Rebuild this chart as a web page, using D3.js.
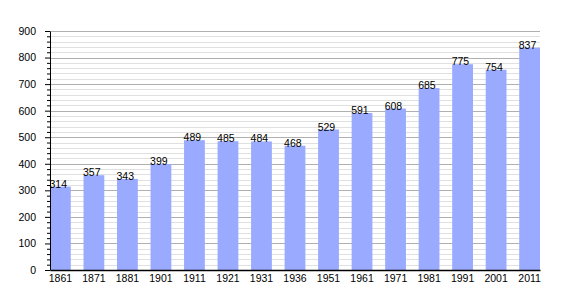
<!DOCTYPE html>
<html>
<head>
<meta charset="utf-8">
<script src="https://cdn.jsdelivr.net/npm/d3@7"></script>
<style>
  body { margin: 0; background: #fff; }
  text { font-family: "Liberation Sans", Arial, sans-serif; }
</style>
</head>
<body>
<svg id="chart"></svg>
<script>
// census years and population
const years = ['1861', '1871', '1881', '1901', '1911', '1921', '1931', '1936',
  '1951', '1961', '1971', '1981', '1991', '2001', '2011'];
const population = [314, 357, 343, 399, 489, 485, 484, 468, 529, 591, 608, 685, 775, 754, 837];
const yTicks = [0, 100, 200, 300, 400, 500, 600, 700, 800, 900];

const width = 570, height = 300;
const margin = { top: 31, right: 30, bottom: 30, left: 50 };
const w = width - margin.left - margin.right;
const h = height - margin.top - margin.bottom;
const font = '"Liberation Sans", Arial, sans-serif';

const svg = d3.select('#chart')
  .attr('width', width)
  .attr('height', height);

const g = svg.append('g')
  .attr('transform', `translate(${margin.left},${margin.top})`);

const x = d3.scaleBand()
  .domain(years)
  .range([0, w])
  .paddingInner(0.38)
  .paddingOuter(0);

const y = d3.scaleLinear()
  .domain([0, 900])
  .range([h, 0]);

// minor grid every 20
const minor = d3.range(0, 901, 20).filter(v => v % 100 !== 0);
g.append('g')
  .selectAll('line')
  .data(minor)
  .join('line')
  .attr('x1', 0)
  .attr('x2', w)
  .attr('y1', d => Math.round(y(d)) + 0.5)
  .attr('y2', d => Math.round(y(d)) + 0.5)
  .attr('stroke', '#e0e0e0');

// major grid
g.append('g')
  .selectAll('line')
  .data(yTicks.slice(1))
  .join('line')
  .attr('x1', 0)
  .attr('x2', w)
  .attr('y1', d => Math.round(y(d)) + 0.5)
  .attr('y2', d => Math.round(y(d)) + 0.5)
  .attr('stroke', '#b0b0b0');

// bars
g.append('g')
  .selectAll('rect')
  .data(population)
  .join('rect')
  .attr('x', (d, i) => x(years[i]))
  .attr('y', d => y(d))
  .attr('width', x.bandwidth())
  .attr('height', d => h - y(d))
  .attr('fill', '#99aaff');

// value labels
g.append('g')
  .selectAll('text')
  .data(population)
  .join('text')
  .attr('x', (d, i) => x(years[i]) - 0.5)
  .attr('y', d => y(d) + 1)
  .attr('font-size', 10.5)
  .attr('fill', '#000')
  .text(d => d);

// y axis with minor ticks
g.append('g')
  .call(d3.axisLeft(y).tickValues(minor).tickSize(3).tickFormat(''))
  .call(a => a.select('.domain').remove())
  .selectAll('line').attr('stroke', '#000');

const yAxis = g.append('g')
  .call(d3.axisLeft(y).tickValues(yTicks).tickSize(5).tickSizeOuter(0).tickPadding(9));
yAxis.select('.domain').attr('stroke', '#000');
yAxis.selectAll('text').attr('font-size', 10.5).attr('fill', '#000')
  .style('font-family', font);

// x axis
const xAxis = g.append('g')
  .attr('transform', `translate(0,${h})`)
  .call(d3.axisBottom(x).tickSize(0).tickPadding(5));
xAxis.select('.domain').attr('stroke', '#000').attr('stroke-width', 1.3);
xAxis.selectAll('text').attr('font-size', 10.5).attr('fill', '#000')
  .style('font-family', font);
</script>
</body>
</html>
